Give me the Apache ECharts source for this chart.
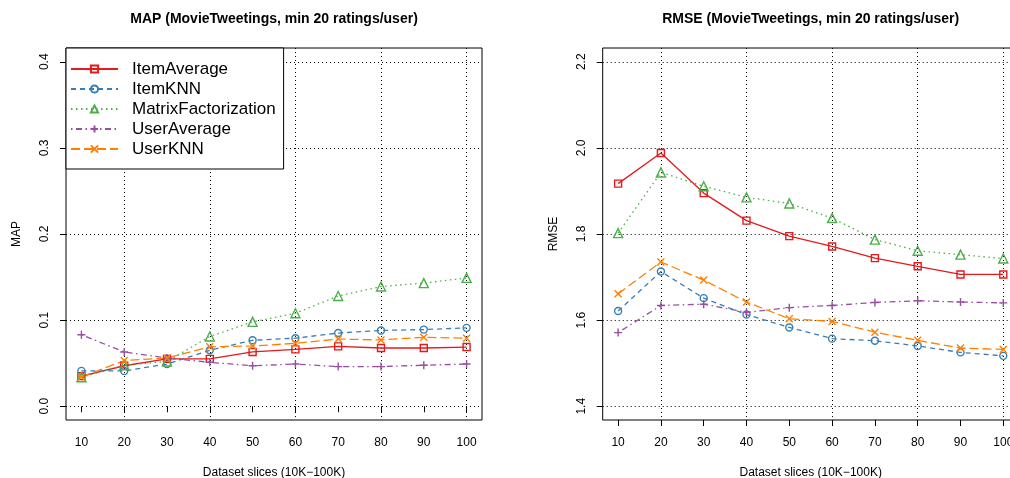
<!DOCTYPE html>
<html><head><meta charset="utf-8">
<script src="https://cdn.jsdelivr.net/npm/echarts@6/dist/echarts.min.js"></script>
<style>html,body{margin:0;padding:0;background:#fff}#c{width:1010px;height:478px}</style>
</head><body><div id="c"></div>
<script>
// ---- data ----
const slices = [10, 20, 30, 40, 50, 60, 70, 80, 90, 100];
const seriesNames = ['ItemAverage', 'ItemKNN', 'MatrixFactorization', 'UserAverage', 'UserKNN'];

const mapItemAverage = [0.035, 0.047, 0.055, 0.055, 0.063, 0.066, 0.0695, 0.0676, 0.0676, 0.0687];
const mapItemKNN = [0.041, 0.041, 0.049, 0.065, 0.0766, 0.079, 0.085, 0.088, 0.089, 0.091];
const mapMatrixFactorization = [0.0336, 0.0476, 0.052, 0.081, 0.098, 0.108, 0.128, 0.139, 0.143, 0.149];
const mapUserAverage = [0.083, 0.063, 0.056, 0.051, 0.047, 0.049, 0.046, 0.046, 0.0476, 0.049];
const mapUserKNN = [0.034, 0.053, 0.056, 0.069, 0.070, 0.073, 0.078, 0.077, 0.080, 0.079];

const rmseItemAverage = [1.917, 1.988, 1.895, 1.831, 1.795, 1.771, 1.744, 1.725, 1.706, 1.706];
const rmseItemKNN = [1.621, 1.713, 1.651, 1.613, 1.583, 1.557, 1.552, 1.540, 1.525, 1.517];
const rmseMatrixFactorization = [1.802, 1.943, 1.911, 1.885, 1.871, 1.837, 1.787, 1.761, 1.752, 1.743];
const rmseUserAverage = [1.571, 1.634, 1.637, 1.618, 1.629, 1.634, 1.641, 1.645, 1.642, 1.640];
const rmseUserKNN = [1.661, 1.735, 1.693, 1.642, 1.603, 1.597, 1.572, 1.553, 1.535, 1.532];

const xTicks = [10, 20, 30, 40, 50, 60, 70, 80, 90, 100];
const xGridTicks = [20, 40, 60, 80, 100];
const mapTicks = [0.0, 0.1, 0.2, 0.3, 0.4];
const rmseTicks = [1.4, 1.6, 1.8, 2.0, 2.2];

const titleMap = 'MAP (MovieTweetings, min 20 ratings/user)';
const titleRmse = 'RMSE (MovieTweetings, min 20 ratings/user)';
const xName = 'Dataset slices (10K\u2212100K)';

// ---- styles ----
const FONT = 'Liberation Sans, Arial, Helvetica, sans-serif';
const colors = ['#E41A1C', '#377EB8', '#4DAF4A', '#984EA3', '#FF7F00'];
const dashes = ['solid', [5, 4], [1.5, 3.5], [1.5, 3.5, 6, 3.5], [9, 4]];
const symbols = ['rect', 'circle', 'triangle', 'path://M5,0L5,10M0,5L10,5', 'path://M0,0L10,10M10,0L0,10'];
const symSizes = [7, 7, 9, 8, 7];

const mapData = [mapItemAverage, mapItemKNN, mapMatrixFactorization, mapUserAverage, mapUserKNN];
const rmseData = [rmseItemAverage, rmseItemKNN, rmseMatrixFactorization, rmseUserAverage, rmseUserKNN];

function pairs(vals) { return slices.map((s, i) => [s, vals[i]]); }

function mkSeries(vals, i, xIdx, yIdx) {
  return {
    name: seriesNames[i], type: 'line', xAxisIndex: xIdx, yAxisIndex: yIdx,
    data: pairs(vals), symbol: symbols[i], symbolSize: symSizes[i],
    showAllSymbol: true, animation: false, clip: true,
    lineStyle: { color: colors[i], width: 1.3, type: dashes[i] },
    itemStyle: { color: 'rgba(255,255,255,0)', borderColor: colors[i], borderWidth: 1.4 },
    emphasis: { disabled: true }
  };
}

const dotted = { show: true, lineStyle: { color: '#000', width: 1, type: [1, 3] } };

function xMain(gi) {
  return {
    type: 'value', gridIndex: gi, min: 6.4, max: 103.6, position: 'bottom',
    name: xName, nameLocation: 'middle', nameGap: 47,
    nameTextStyle: { fontFamily: FONT, fontSize: 12, color: '#000' },
    axisLine: { show: false },
    axisTick: { show: true, inside: false, length: 6, customValues: xTicks, lineStyle: { color: '#000' } },
    axisLabel: { customValues: xTicks, margin: 17, fontFamily: FONT, fontSize: 12, color: '#000', showMinLabel: true, showMaxLabel: true },
    splitLine: { show: false }
  };
}
function xGrid(gi) {
  return {
    type: 'value', gridIndex: gi, min: 6.4, max: 103.6, position: 'top',
    axisLine: { show: false }, axisLabel: { show: false },
    axisTick: { show: false, customValues: xGridTicks },
    splitLine: dotted
  };
}
function yAxis(gi, name, min, max, ticks) {
  return {
    type: 'value', gridIndex: gi, min: min, max: max,
    name: name, nameLocation: 'middle', nameGap: 43, nameRotate: 90,
    nameTextStyle: { fontFamily: FONT, fontSize: 12, color: '#000' },
    axisLine: { show: false },
    axisTick: { show: true, length: 6, customValues: ticks, lineStyle: { color: '#000' } },
    axisLabel: { customValues: ticks, rotate: 90, margin: 15, fontFamily: FONT, fontSize: 12, color: '#000',
      formatter: v => Number(v).toFixed(1) },
    splitLine: dotted
  };
}

const series = [];
mapData.forEach((d, i) => series.push(mkSeries(d, i, 0, 0)));
rmseData.forEach((d, i) => series.push(mkSeries(d, i, 2, 1)));

const option = {
  backgroundColor: '#fff',
  animation: false,
  title: [
    { text: titleMap, left: 274, top: 12, textAlign: 'center', padding: 0,
      textStyle: { fontFamily: FONT, fontSize: 14, fontWeight: 'bold', color: '#000' } },
    { text: titleRmse, left: 810.7, top: 12, textAlign: 'center', padding: 0,
      textStyle: { fontFamily: FONT, fontSize: 14, fontWeight: 'bold', color: '#000' } }
  ],
  grid: [
    { left: 66, top: 48, width: 416, height: 372, outerBoundsMode: 'none', containLabel: false,
      show: true, borderColor: '#000', borderWidth: 1, backgroundColor: 'transparent' },
    { left: 602.7, top: 48, width: 416, height: 372, outerBoundsMode: 'none', containLabel: false,
      show: true, borderColor: '#000', borderWidth: 1, backgroundColor: 'transparent' }
  ],
  xAxis: [xMain(0), xGrid(0), xMain(1), xGrid(1)],
  yAxis: [
    yAxis(0, 'MAP', -0.016, 0.416, mapTicks),
    yAxis(1, 'RMSE', 1.368, 2.232, rmseTicks)
  ],
  legend: {
    data: seriesNames, orient: 'vertical', left: 66, top: 48,
    backgroundColor: '#fff', borderColor: '#000', borderWidth: 1,
    padding: [11, 8, 10, 4], itemGap: 0, itemWidth: 47, itemHeight: 9,
    selectedMode: false, z: 10,
    textStyle: { fontFamily: FONT, fontSize: 17, color: '#000', lineHeight: 20, padding: [0, 0, 0, 9] }
  },
  series: series
};

const chart = echarts.init(document.getElementById('c'), null, { renderer: 'canvas' });
chart.setOption(option);
</script>
</body></html>
